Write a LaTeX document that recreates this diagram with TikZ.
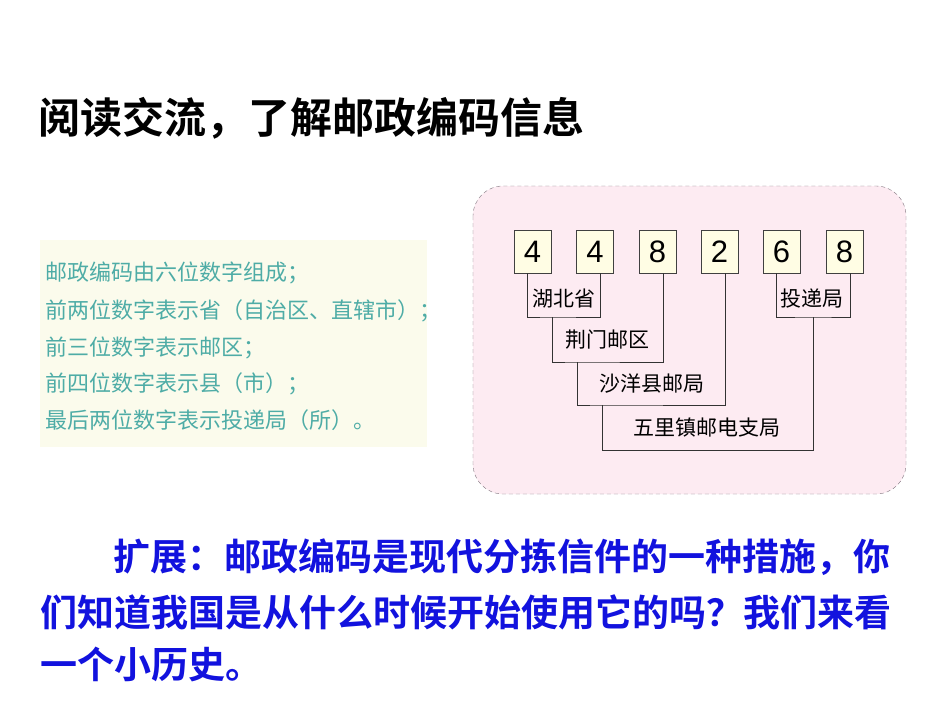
\documentclass[tikz,border=0pt]{standalone}
\usepackage{fontspec}
\usepackage{tikz}
\usetikzlibrary{positioning}
\newfontfamily\cjk{Noto Sans CJK SC}
\newfontfamily\cjkbold{Noto Sans CJK SC Bold}
\setmainfont{Liberation Sans}
\definecolor{notebg}{RGB}{251,251,236}
\definecolor{noteink}{RGB}{78,172,166}
\definecolor{panelbg}{RGB}{253,235,242}
\definecolor{panelrim}{RGB}{128,116,126}
\definecolor{digitbg}{RGB}{255,253,228}
\definecolor{askblue}{RGB}{18,18,222}

\begin{document}
\begin{tikzpicture}[
        x=1pt, y=-1pt,
        digit/.style = {draw=black!75, fill=digitbg, minimum width=37pt, minimum height=43pt,
                        inner sep=0pt, font=\fontsize{31}{31}\selectfont},
        tag/.style   = {inner sep=1pt, font=\cjk\fontsize{21}{21}\selectfont},
        wire/.style  = {draw=black!80, line width=0.9pt},
        note/.style  = {anchor=west, inner sep=0pt, text=noteink, font=\cjk\fontsize{22}{22}\selectfont},
        ask/.style   = {anchor=west, inner sep=0pt, text=askblue, font=\cjkbold\fontsize{37}{37}\selectfont}
    ]
        \useasboundingbox[fill=white] (0,0) rectangle (950,713);

        % heading
        \node[anchor=west, inner sep=0pt, font=\cjkbold\fontsize{42}{42}\selectfont] (title) at (38,118)
            {阅读交流，了解邮政编码信息};

        % left note
        \fill[notebg] (40,240) rectangle (427,447);
        \node[note] (n1) at (45,273) {邮政编码由六位数字组成；};
        \node[note] (n2) at (45,311) {前两位数字表示省（自治区、直辖市）；};
        \node[note] (n3) at (45,348) {前三位数字表示邮区；};
        \node[note] (n4) at (45,384) {前四位数字表示县（市）；};
        \node[note] (n5) at (45,420) {最后两位数字表示投递局（所）。};

        % right panel
        \draw[panelrim, fill=panelbg, dash pattern=on 4pt off 3pt, rounded corners=30pt]
            (473,186) rectangle (906,494);

        \node[digit] (d1) at (532.5,251.5) {4};
        \node[digit] (d2) at (595,251.5)   {4};
        \node[digit] (d3) at (657.5,251.5) {8};
        \node[digit] (d4) at (719.5,251.5) {2};
        \node[digit] (d5) at (781.5,251.5) {6};
        \node[digit] (d6) at (844.5,251.5) {8};

        \coordinate (p1) at (552,317);
        \coordinate (p2) at (577,362);
        \coordinate (p3) at (602,405);
        \coordinate (p4) at (813,317);
        \coordinate (p5) at (707,450);

        \draw[wire] ([xshift=-5.5pt]d1.south) |- (p1) -| ([xshift=5.5pt]d2.south);
        \draw[wire] (p1) |- (p2) -| ([xshift=5.5pt]d3.south);
        \draw[wire] (p2) |- (p3) -| ([xshift=5.5pt]d4.south);
        \draw[wire] ([xshift=-5.5pt]d5.south) |- (p4) -| ([xshift=5.5pt]d6.south);
        \draw[wire] (p3) |- (p5) -| (p4);

        \node[tag] (prov) at (564,299) {湖北省};
        \node[tag] (area) at (607,340) {荆门邮区};
        \node[tag] (cnty) at (652,384) {沙洋县邮局};
        \node[tag] (town) at (707,428) {五里镇邮电支局};
        \node[tag] (dlvr) at (812,299) {投递局};

        % question
        \node[ask] (q1) at (113,557) {扩展：邮政编码是现代分拣信件的一种措施，你};
        \node[ask] (q2) at (40,612)  {们知道我国是从什么时候开始使用它的吗？我们来看};
        \node[ask] (q3) at (40,664)  {一个小历史。};
    \end{tikzpicture}
\end{document}
